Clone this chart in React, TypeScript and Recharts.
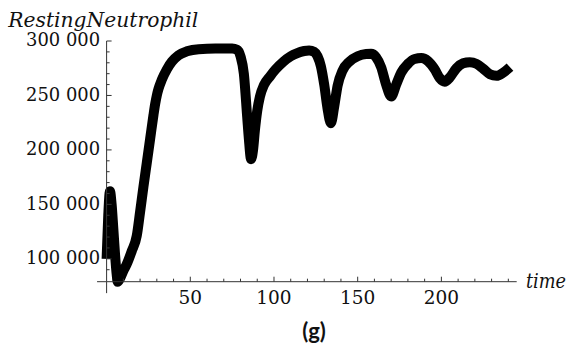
import React from 'react';
import { LineChart, Line, XAxis, YAxis, ReferenceLine } from 'recharts';

const times = [
  0, 1, 2, 3, 4, 5, 6, 6.6, 8, 10, 12, 15, 18, 20, 22, 24, 26, 28, 29, 30, 31, 33, 36, 39, 43, 48, 55, 65, 75, 78, 80, 82, 84, 85,
  86.3, 87.5, 88.6, 90, 91.6, 94, 97.6, 101, 105.6, 110, 113.6, 118, 121, 124, 126, 128, 130, 132, 134, 136, 138, 141, 145, 150,
  155, 158, 161, 164, 167, 170, 173, 176, 180, 184, 188, 192, 196, 199, 202, 205, 209, 213, 217, 221, 225, 229, 233, 237, 241,
];
const restingNeutrophil = [
  100000, 140000, 162000, 150000, 128000, 105000, 86000, 79000, 82000, 89000, 95000, 107000, 121000, 143000, 166000, 188000,
  210000, 232000, 242000, 250000, 256000, 264500, 274000, 281000, 287000, 290500, 292500, 293000, 293000, 292000, 286000, 270000,
  230000, 210000, 191500, 200000, 218000, 236000, 249000, 259500, 267500, 274000, 281000, 286000, 288700, 290800, 291300, 290000,
  286000, 277000, 260000, 238000, 224500, 240000, 259000, 273000, 281000, 286000, 288000, 288200, 285000, 276000, 260000, 249000,
  260000, 271000, 279000, 283500, 284300, 281500, 274000, 266000, 262700, 266500, 275000, 279500, 280600, 279000, 274500, 269500,
  268000, 271000, 276000,
];

const xMajorTicks = [50, 100, 150, 200];
const xMinorTicks = [10, 20, 30, 40, 60, 70, 80, 90, 110, 120, 130, 140, 160, 170, 180, 190, 210, 220, 230, 240];
const yMajorTicks = [100000, 150000, 200000, 250000, 300000];
const yMajorLabels = ['100 000', '150 000', '200 000', '250 000', '300 000'];
const yMinorTicks = [90000, 110000, 120000, 130000, 140000, 160000, 170000, 180000, 190000, 210000, 220000, 230000, 240000,
  260000, 270000, 280000, 290000];

const yTitle = 'RestingNeutrophil';
const xTitle = 'time';
const caption = '(g)';

const data = times.map((t, i) => ({ time: t, value: restingNeutrophil[i] }));
const xTicks = [...xMajorTicks, ...xMinorTicks].sort((a, b) => a - b);
const yTicks = [...yMajorTicks, ...yMinorTicks].sort((a, b) => a - b);

const AXIS_COLOR = '#333';
const TEXT_COLOR = '#111';
const SERIF = 'DejaVu Serif';

const XTick = (props: any) => {
  const { x, y, payload } = props;
  const v = payload.value;
  const major = xMajorTicks.includes(v);
  return (
    <g>
      <line x1={x} x2={x} y1={y} y2={y - (major ? 5 : 3)} stroke={AXIS_COLOR} strokeWidth={1} />
      {major && (
        <text x={x} y={y + 22.3} textAnchor="middle" fontFamily={SERIF} fontSize={18.5} fill={TEXT_COLOR}>
          {String(v)}
        </text>
      )}
    </g>
  );
};

const YTick = (props: any) => {
  const { x, y, payload } = props;
  const v = payload.value;
  const idx = yMajorTicks.indexOf(v);
  const major = idx >= 0;
  return (
    <g>
      <line x1={x} x2={x + (major ? 5 : 3)} y1={y} y2={y} stroke={AXIS_COLOR} strokeWidth={1} />
      {major && (
        <text x={x - 6.5} y={y + 5.3} textAnchor="end" fontFamily={SERIF} fontSize={18.5} fill={TEXT_COLOR}
          textLength={74} lengthAdjust="spacingAndGlyphs">
          {yMajorLabels[idx]}
        </text>
      )}
    </g>
  );
};

export default function App() {
  return (
    <div style={{ position: 'absolute', left: 0, top: 0, width: 570, height: 354, background: '#fff' }}>
      <LineChart
        width={570}
        height={354}
        data={data}
        margin={{ top: 41, right: 53.3, bottom: 42.3, left: 6.6 }}
      >
        <XAxis
          type="number"
          dataKey="time"
          domain={[0, 245]}
          ticks={xTicks}
          interval={0}
          tickSize={0}
          tickMargin={0}
          tickLine={false}
          tick={<XTick />}
          height={30}
          axisLine={{ stroke: AXIS_COLOR, strokeWidth: 1 }}
        />
        <YAxis
          type="number"
          domain={[79000, 300000]}
          ticks={yTicks}
          interval={0}
          tickSize={0}
          tickMargin={0}
          tickLine={false}
          tick={<YTick />}
          width={100}
          axisLine={{ stroke: AXIS_COLOR, strokeWidth: 1 }}
        />
        <ReferenceLine
          segment={[{ x: 0, y: 79000 }, { x: 0, y: 68500 }]}
          stroke={AXIS_COLOR}
          strokeWidth={1}
          ifOverflow="visible"
        />
        <ReferenceLine
          segment={[{ x: -5.7, y: 79000 }, { x: 0, y: 79000 }]}
          stroke={AXIS_COLOR}
          strokeWidth={1}
          ifOverflow="visible"
        />
        <Line
          type="monotone"
          dataKey="value"
          stroke="#000"
          strokeWidth={10}
          strokeLinejoin="round"
          dot={false}
          activeDot={false}
          isAnimationActive={false}
        />
      </LineChart>
      <svg width={570} height={354} style={{ position: 'absolute', left: 0, top: 0, pointerEvents: 'none' }}>
        <text x={8.3} y={26.5} fontFamily={SERIF} fontStyle="italic" fontSize={19.5} fill={TEXT_COLOR}
          textLength={190} lengthAdjust="spacingAndGlyphs">
          {yTitle}
        </text>
        <text x={526} y={288} fontFamily={SERIF} fontStyle="italic" fontSize={20} fill={TEXT_COLOR}
          textLength={40} lengthAdjust="spacingAndGlyphs">
          {xTitle}
        </text>
        <text x={314} y={339} textAnchor="middle" fontFamily="Lato"
          fontWeight="bold" fontSize={22} fill={TEXT_COLOR}>
          {caption}
        </text>
      </svg>
    </div>
  );
}
